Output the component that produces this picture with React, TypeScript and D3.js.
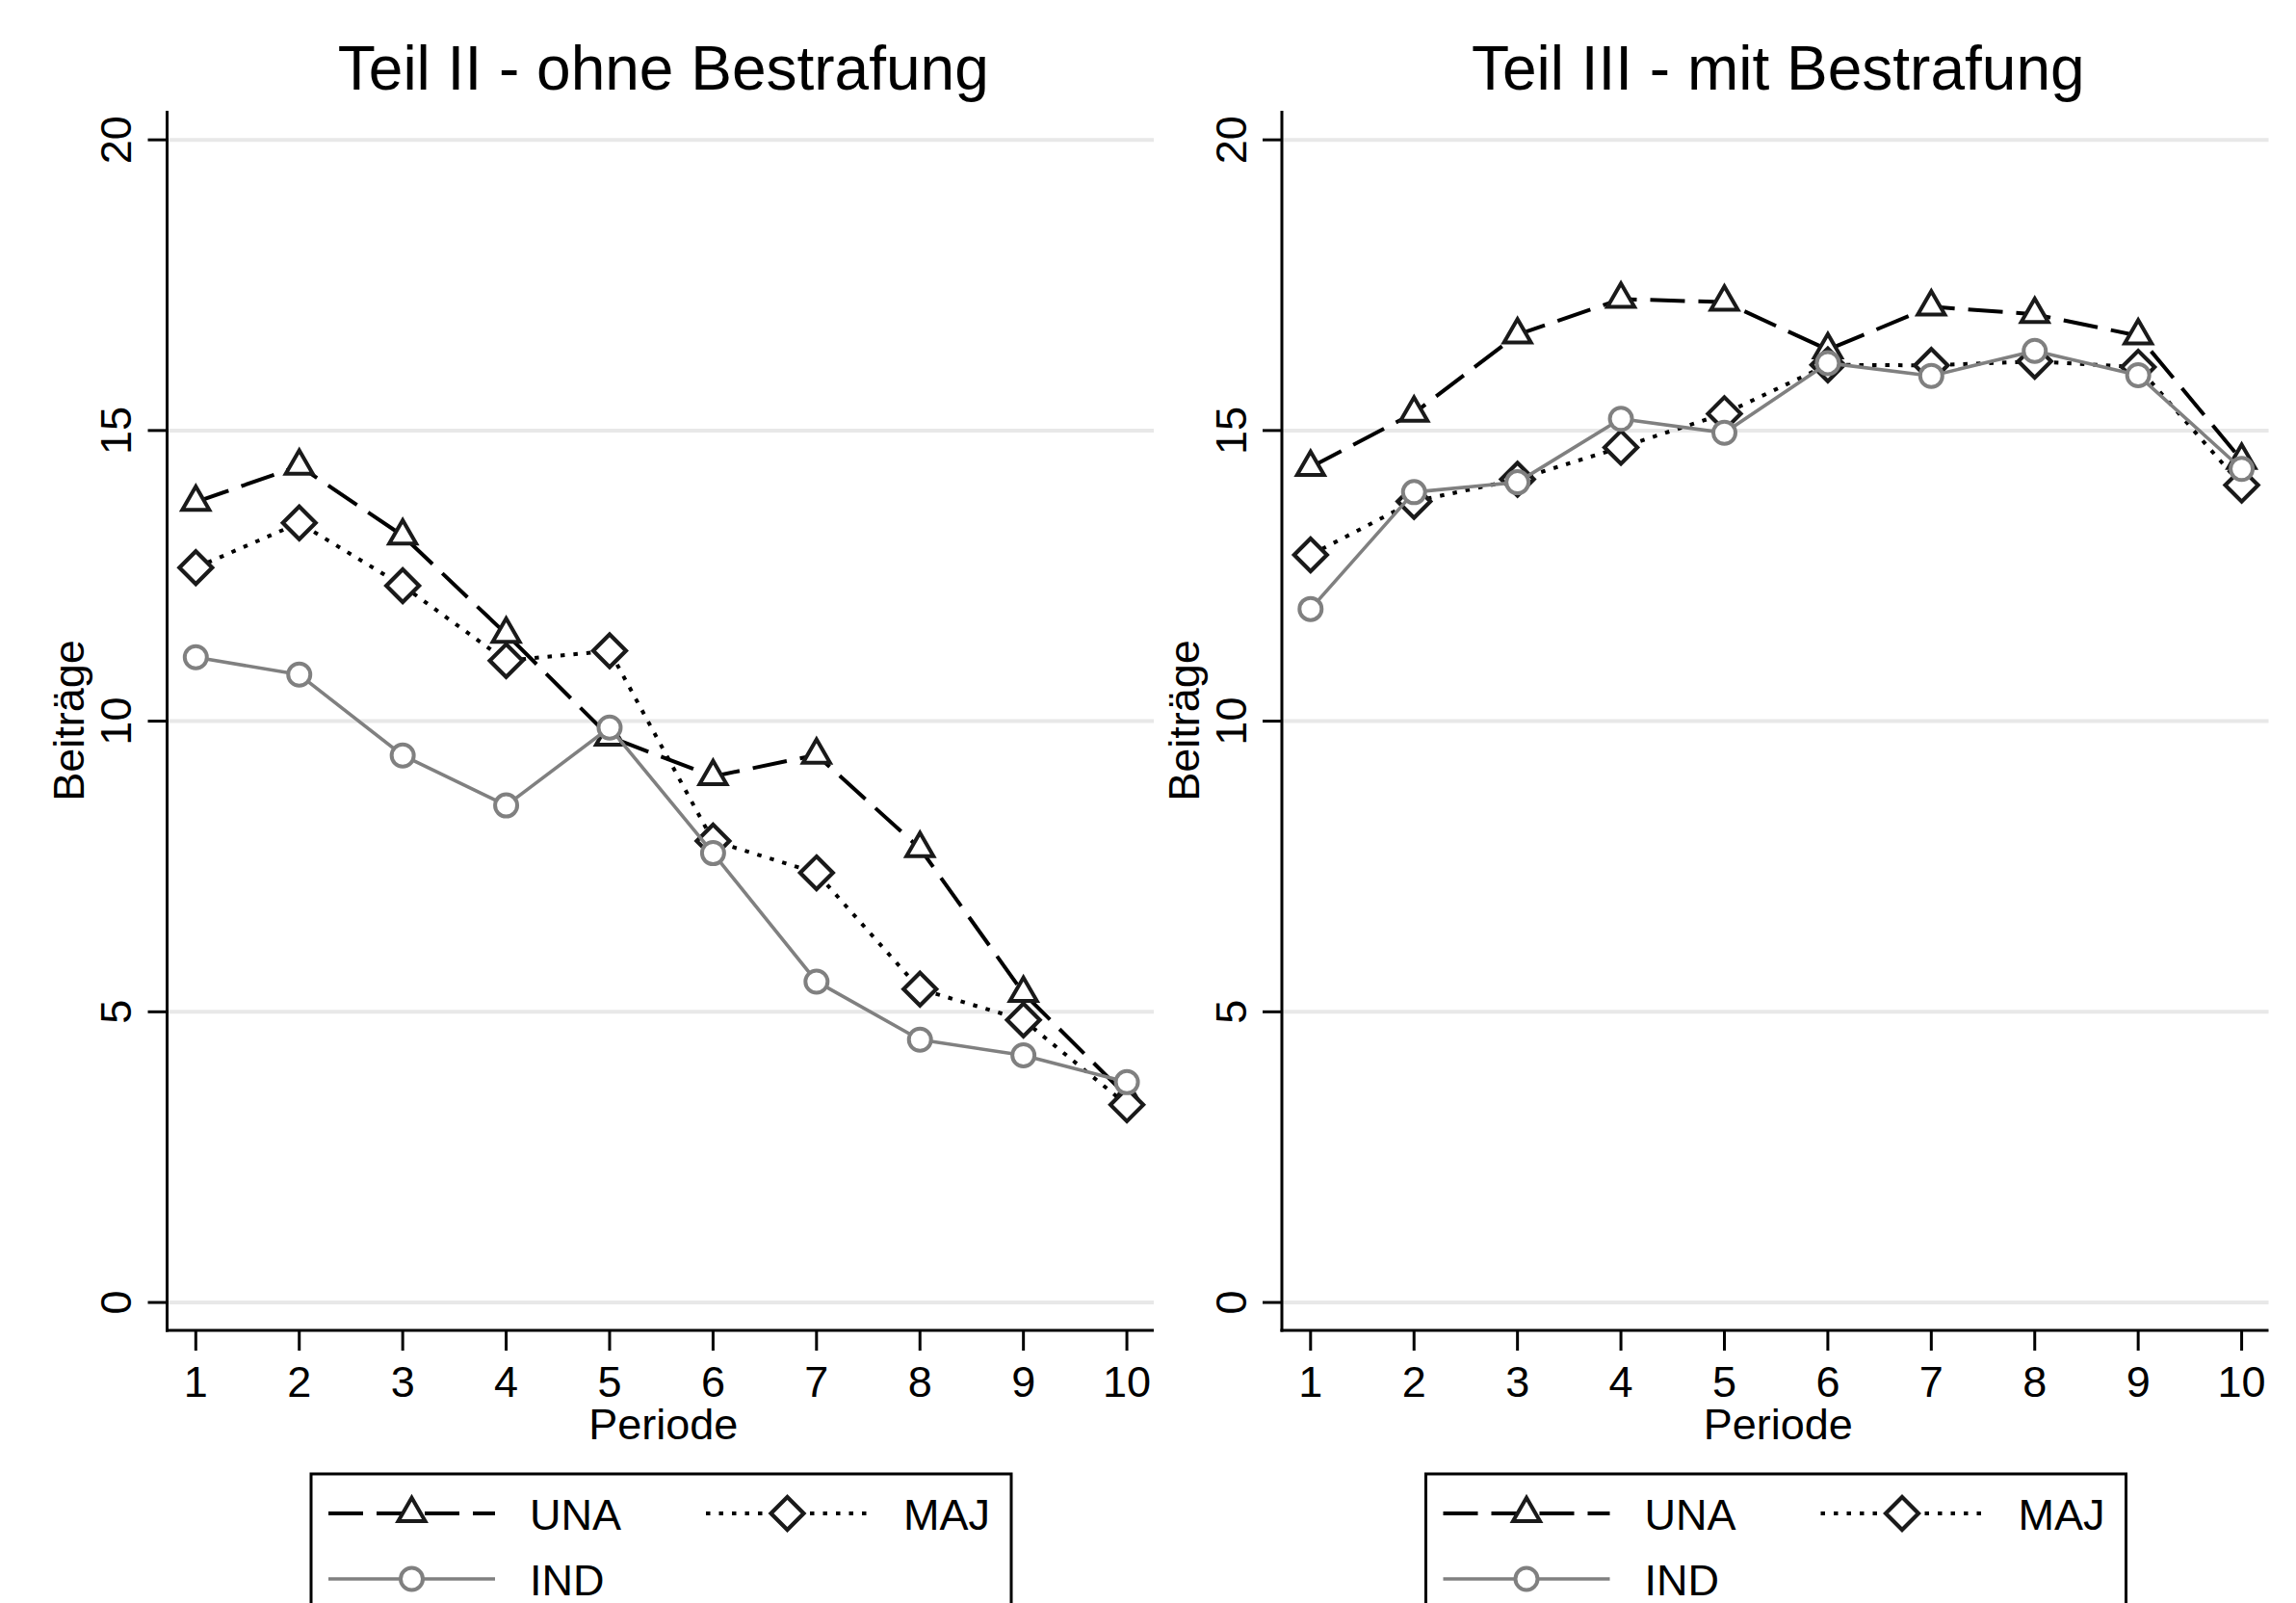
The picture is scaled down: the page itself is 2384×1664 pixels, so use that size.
import React from "react";
import * as d3 from "d3";

const periods = [1, 2, 3, 4, 5, 6, 7, 8, 9, 10];
const yTicks = [0, 5, 10, 15, 20];

const una2 = [13.77, 14.39, 13.19, 11.5, 9.73, 9.05, 9.42, 7.81, 5.32, 3.55];
const maj2 = [12.64, 13.41, 12.33, 11.04, 11.21, 7.94, 7.39, 5.39, 4.86, 3.4];
const ind2 = [11.1, 10.8, 9.41, 8.55, 9.89, 7.73, 5.52, 4.52, 4.25, 3.79];

const una3 = [14.37, 15.3, 16.65, 17.26, 17.21, 16.39, 17.13, 17.0, 16.63, 14.49];
const maj3 = [12.86, 13.78, 14.16, 14.71, 15.29, 16.13, 16.12, 16.19, 16.09, 14.06];
const ind3 = [11.93, 13.94, 14.11, 15.2, 14.96, 16.16, 15.94, 16.37, 15.95, 14.34];

const panelTitles = ["Teil II - ohne Bestrafung", "Teil III - mit Bestrafung"];
const seriesNames = ["UNA", "MAJ", "IND"];
const yTitle = "Beiträge";
const xTitle = "Periode";

const FONT = "'Liberation Sans', Arial, Helvetica, sans-serif";

type Kind = "tri" | "dia" | "circ";
const styles: { kind: Kind; color: string; mcolor: string; width: number; dash: string | undefined }[] = [
  { kind: "tri", color: "#000", mcolor: "#1a1a1a", width: 4, dash: "36 14" },
  { kind: "dia", color: "#000", mcolor: "#1a1a1a", width: 4, dash: "4.5 9" },
  { kind: "circ", color: "#808080", mcolor: "#808080", width: 3.6, dash: undefined },
];

function Marker({ kind, x, y, color }: { kind: Kind; x: number; y: number; color: string }) {
  if (kind === "tri") {
    const s = 28;
    const h = (s * Math.sqrt(3)) / 2;
    const p = `M${x},${y - (2 * h) / 3}L${x - s / 2},${y + h / 3}L${x + s / 2},${y + h / 3}Z`;
    return <path d={p} fill="#fff" stroke={color} strokeWidth={4} strokeLinejoin="miter" />;
  }
  if (kind === "dia") {
    const r = 17;
    const p = `M${x},${y - r}L${x + r},${y}L${x},${y + r}L${x - r},${y}Z`;
    return <path d={p} fill="#fff" stroke={color} strokeWidth={4.2} strokeLinejoin="miter" />;
  }
  return <circle cx={x} cy={y} r={11.5} fill="#fff" stroke={color} strokeWidth={4} />;
}

function Panel({ dx, title, data }: { dx: number; title: string; data: number[][] }) {
  const left = 173.5 + dx;
  const right = 1198 + dx;
  const top = 115;
  const bottom = 1381;
  const x = d3.scaleLinear().domain([0.7225, 10.26]).range([left, right]);
  const y = d3.scaleLinear().domain([-0.48, 20.5]).range([bottom, top]);
  const line = d3
    .line<number>()
    .x((_, i) => x(periods[i]))
    .y((d) => y(d));
  const cx = (left + right) / 2;

  const legLeft = 323 + dx;
  const legTop = 1530;

  return (
    <g>
      <text x={cx + 3} y={93} textAnchor="middle" fontFamily={FONT} fontSize={64} fill="#000">
        {title}
      </text>
      {yTicks.map((t) => (
        <line key={"g" + t} x1={left} x2={right} y1={y(t)} y2={y(t)} stroke="#e8e8e8" strokeWidth={4} />
      ))}
      <line x1={left} x2={left} y1={top} y2={bottom + 1.5} stroke="#000" strokeWidth={3} />
      <line x1={left - 1.5} x2={right} y1={bottom} y2={bottom} stroke="#000" strokeWidth={3} />
      {yTicks.map((t) => (
        <g key={"yt" + t}>
          <line x1={left - 20} x2={left} y1={y(t)} y2={y(t)} stroke="#000" strokeWidth={3} />
          <text
            x={left - 37}
            y={y(t)}
            transform={`rotate(-90, ${left - 37}, ${y(t)})`}
            textAnchor="middle"
            fontFamily={FONT}
            fontSize={45}
            fill="#000"
          >
            {t}
          </text>
        </g>
      ))}
      {periods.map((p) => (
        <g key={"xt" + p}>
          <line x1={x(p)} x2={x(p)} y1={bottom} y2={bottom + 21} stroke="#000" strokeWidth={3} />
          <text x={x(p)} y={1450} textAnchor="middle" fontFamily={FONT} fontSize={45} fill="#000">
            {p}
          </text>
        </g>
      ))}
      <text x={cx + 3} y={1494} textAnchor="middle" fontFamily={FONT} fontSize={45} fill="#000">
        {xTitle}
      </text>
      <text
        x={87 + dx}
        y={748}
        transform={`rotate(-90, ${87 + dx}, 748)`}
        textAnchor="middle"
        fontFamily={FONT}
        fontSize={45}
        fill="#000"
      >
        {yTitle}
      </text>

      {data.map((vals, si) => {
        const st = styles[si];
        return (
          <g key={"s" + si}>
            <path
              d={line(vals) || ""}
              fill="none"
              stroke={st.color}
              strokeWidth={st.width}
              strokeDasharray={st.dash}
              strokeLinejoin="round"
            />
            {vals.map((v, i) => (
              <Marker key={i} kind={st.kind} x={x(periods[i])} y={y(v)} color={st.mcolor} />
            ))}
          </g>
        );
      })}

      <rect x={legLeft} y={legTop} width={727} height={200} fill="#fff" stroke="#000" strokeWidth={3} />
      {seriesNames.map((name, si) => {
        const st = styles[si];
        const col = si === 1 ? 1 : 0;
        const row = si === 2 ? 1 : 0;
        const lx0 = legLeft + (col === 0 ? 18 : 410);
        const lx1 = lx0 + (col === 0 ? 173 : 169);
        const ly = legTop + 41 + row * 68;
        const tx = legLeft + (col === 0 ? 227 : 615);
        return (
          <g key={"l" + si}>
            <line
              x1={lx0}
              x2={lx1}
              y1={ly}
              y2={ly}
              stroke={st.color}
              strokeWidth={st.width}
              strokeDasharray={st.dash}
            />
            <Marker kind={st.kind} x={(lx0 + lx1) / 2} y={ly} color={st.mcolor} />
            <text x={tx} y={ly + 17} fontFamily={FONT} fontSize={45} fill="#000">
              {name}
            </text>
          </g>
        );
      })}
    </g>
  );
}

export default function App() {
  return (
    <svg
      width={2384}
      height={1664}
      viewBox="0 0 2384 1664"
      style={{ position: "absolute", left: 0, top: 0, background: "#fff" }}
    >
      <rect x={0} y={0} width={2384} height={1664} fill="#fff" />
      <Panel dx={0} title={panelTitles[0]} data={[una2, maj2, ind2]} />
      <Panel dx={1157.5} title={panelTitles[1]} data={[una3, maj3, ind3]} />
    </svg>
  );
}
